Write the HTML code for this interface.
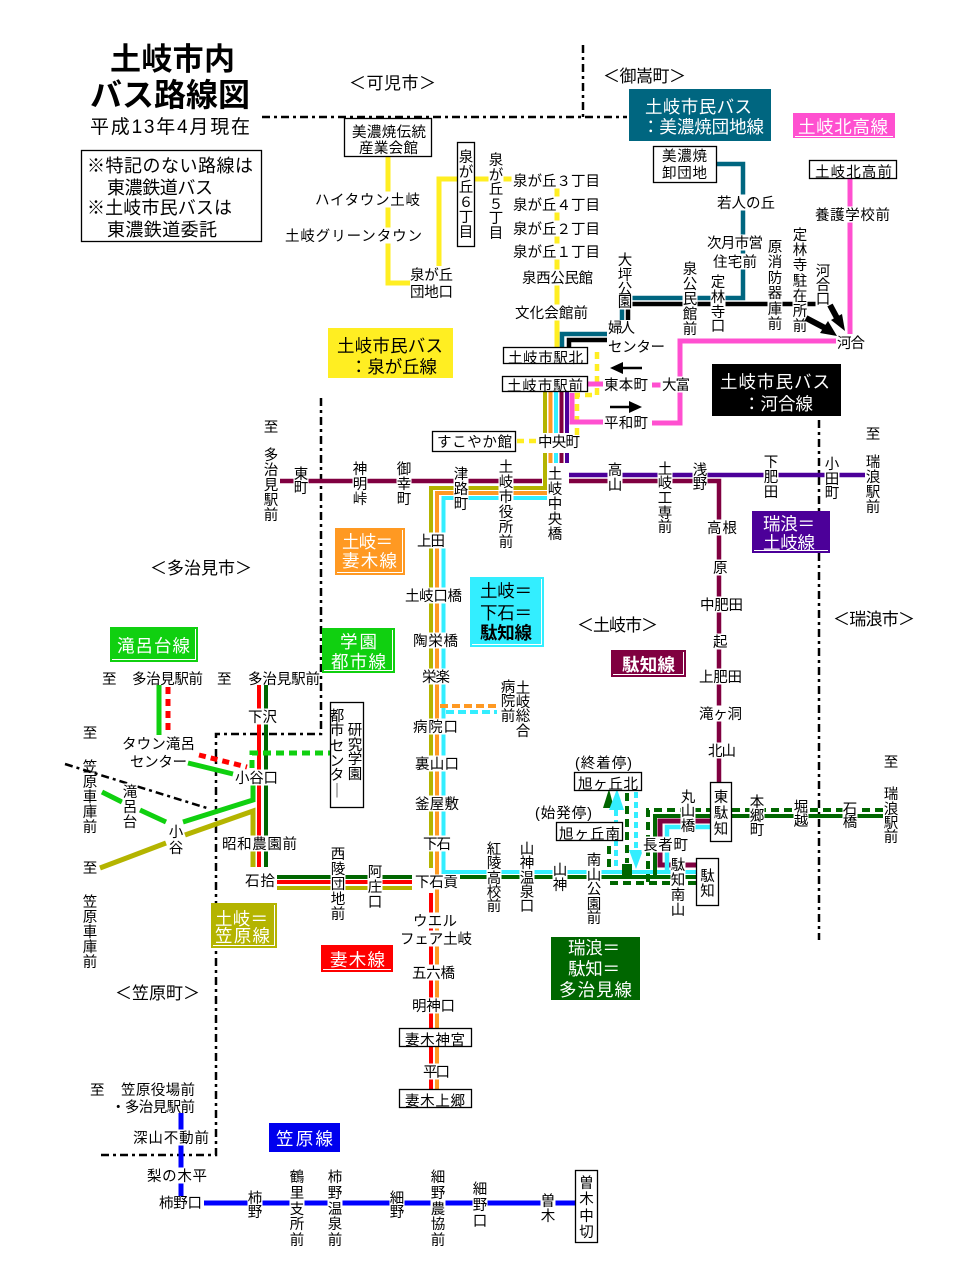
<!DOCTYPE html>
<html><head><meta charset="utf-8"><title>土岐市内バス路線図</title>
<style>
html,body{margin:0;padding:0;background:#fff;width:960px;height:1279px;overflow:hidden;}
svg{display:block;}
text{font-family:"Liberation Sans","Noto Sans CJK JP",sans-serif;}
.s{font-size:14.5px;fill:#000;}
.n{font-size:14.5px;fill:#000;}
.v{text-anchor:middle;}
.r{font-size:17px;fill:#000;}
.lw{font-size:17.5px;fill:#fff;}
.lb{font-size:17.5px;fill:#000;}
.bx{fill:#fff;stroke:#000;stroke-width:1.3;}
.bd{fill:none;stroke:#000;stroke-width:2.5;}
.rt{fill:none;}
.bv{fill:none;stroke:#fff;stroke-width:1;}
.wb{fill:#fff;}
</style></head><body>
<svg xmlns="http://www.w3.org/2000/svg" width="960" height="1279" viewBox="0 0 960 1279">
<rect width="960" height="1279" fill="#fff"/>

<!-- boundaries -->
<g class="bd" stroke-dasharray="8 4 3 4">
<path d="M262 117H627"/>
<path d="M583 45V117"/>
<path d="M321 398V734H216V1155H101"/>
<path d="M65 764L210 809"/>
<path d="M819 420V940"/>
</g>

<!-- routes -->
<g class="rt">
<path d="M388 157V283H410M439 266V179H457M475 179H490M502 179H513M557 187V347" stroke="#ffee22" stroke-width="5"/>
<path d="M597 352V395H577V437M517 441H536" stroke="#ffee22" stroke-width="4.5" stroke-dasharray="7 5"/>
<path d="M562 347V334H607M622 320V298H743V164H717" stroke="#006680" stroke-width="4.5"/>
<path d="M569 347V340H607M628 320V304H816" stroke="#000" stroke-width="4.5"/>
<path d="M850 179V334M836 341H680V423H652M603 422H572V393M588 384H603M652 385H661" stroke="#ff50d0" stroke-width="5"/>
<path d="M545 392V433M545 453V488H431V868" stroke="#b4b400" stroke-width="4"/>
<path d="M550.5 392V433M550.5 453V463M547 493H437V1089" stroke="#ff9922" stroke-width="4"/>
<path d="M556 392V433M556 453V463M547 498H443.5V872H696" stroke="#33eeff" stroke-width="4"/>
<path d="M561.5 392V433M561.5 453V463" stroke="#800040" stroke-width="4"/>
<path d="M567 392V433M567 453V463" stroke="#4c0099" stroke-width="4"/>
<path d="M280 481H542M569 481H719V782" stroke="#800040" stroke-width="4.5"/>
<path d="M569 475H865" stroke="#4c0099" stroke-width="4.5"/>
<path d="M431 893V1089M277 882H412M259 685V867" stroke="#ff0000" stroke-width="4"/>
<path d="M277 877H412M460 877H696M266 685V867M655 877V816H710M732 816H883" stroke="#006600" stroke-width="4"/>
<path d="M277 888H412" stroke="#b4b400" stroke-width="4"/>
<path d="M253 867V811L185 835M166 843L100 868" stroke="#b4b400" stroke-width="5"/>
<path d="M159 685V735M188 763L233 774M253 783V800L183 822M166 822L140 810M122 802L102 792" stroke="#10d010" stroke-width="5"/>
<path d="M168 687V733M199 755L247 767" stroke="#ff0000" stroke-width="5" stroke-dasharray="7 5"/>
<path d="M252 768V753H330" stroke="#10d010" stroke-width="5" stroke-dasharray="8 5"/>
<path d="M181 1113V1196M204 1203H575" stroke="#0000ff" stroke-width="5"/>
<path d="M710 821H660V865H697" stroke="#800040" stroke-width="5"/>
<path d="M710 827H667V872" stroke="#33eeff" stroke-width="4.5"/>
<path d="M883 810H648V883M610 883H697M609 867V843M627 793V863" stroke="#006600" stroke-width="4" stroke-dasharray="8 5"/>
<path d="M616 810V868M636 792V850" stroke="#33eeff" stroke-width="4" stroke-dasharray="6 4"/>
<path d="M440 706H500" stroke="#ff9922" stroke-width="4" stroke-dasharray="8 4"/>
<path d="M446 712H497" stroke="#33eeff" stroke-width="4" stroke-dasharray="8 4"/>
</g>
<polygon points="603,808 614,808 609,789" fill="#006600"/>
<rect x="622" y="864" width="10" height="14" fill="#006600"/>
<polygon points="609,810 624,810 617,789" fill="#33eeff"/>
<polygon points="629,850 643,850 636,869" fill="#33eeff"/>

<!-- legend boxes -->
<rect x="629" y="89" width="142" height="52" fill="#006680"/>
<rect x="793" y="113" width="102" height="25" fill="#ff50d0"/><path class="bv" d="M795 136.5H893"/>
<rect x="328" y="328" width="125" height="50" fill="#ffee22"/>
<rect x="712" y="364" width="129" height="52" fill="#000"/>
<rect x="335" y="528" width="70" height="47" fill="#ff9922"/><path class="bv" d="M337 572.5H402.5V530"/>
<rect x="470" y="577" width="74" height="70" fill="#33eeff"/><path class="bv" d="M472 644.5H541.5V579"/>
<rect x="611" y="650" width="75" height="27" fill="#800040"/><path class="bv" d="M613 674.5H683.5V652"/>
<rect x="752" y="511" width="78" height="42" fill="#4c0099"/><path class="bv" d="M754 550.5H828"/>
<rect x="110" y="627" width="88" height="35" fill="#10d010"/><path class="bv" d="M112 659.5H195.5V629"/>
<rect x="322" y="628" width="73" height="45" fill="#10d010"/><path class="bv" d="M324 670.5H392.5V630"/>
<rect x="211" y="903" width="66" height="45" fill="#b4b400"/><path class="bv" d="M213 945.5H274.5V905"/>
<rect x="321" y="945" width="72" height="27" fill="#ff0000"/><path class="bv" d="M323 969.5H391"/>
<rect x="551" y="937" width="89" height="63" fill="#006600"/>
<rect x="269" y="1123" width="71" height="29" fill="#0000ee"/>

<!-- boxes -->
<rect class="bx" x="344.5" y="118.5" width="87" height="38"/>
<rect class="bx" x="457.5" y="142.5" width="17" height="104"/>
<rect class="bx" x="653.5" y="146.5" width="63" height="36"/>
<rect class="bx" x="809.5" y="160.5" width="87" height="18"/>
<rect class="bx" x="503.5" y="347.5" width="84" height="16"/>
<rect class="bx" x="502.5" y="376.5" width="85" height="15"/>
<rect class="bx" x="432.5" y="431.5" width="83" height="20"/>
<rect class="bx" x="574.5" y="772.5" width="67" height="18"/>
<rect class="bx" x="556.5" y="822.5" width="66" height="18"/>
<rect class="bx" x="710.5" y="782.5" width="21" height="59"/>
<rect class="bx" x="696.5" y="858.5" width="22" height="47"/>
<rect class="bx" x="399.5" y="1028.5" width="72" height="18"/>
<rect class="bx" x="399.5" y="1089.5" width="72" height="18"/>
<rect class="bx" x="330.5" y="702.5" width="33" height="105"/>
<rect class="bx" x="575.5" y="1170.5" width="22" height="72"/>
<rect class="bx" x="81.5" y="150.5" width="180" height="91"/>

<!-- white backgrounds behind labels on lines -->
<g class="wb">
<rect x="488.5" y="151.5" width="15" height="89"/>
<rect x="617.5" y="251.5" width="15" height="58"/>
<rect x="682.5" y="260.5" width="15" height="76"/>
<rect x="710.5" y="273.5" width="15" height="60"/>
<rect x="767.5" y="238.5" width="15" height="93"/>
<rect x="792.5" y="226.5" width="15" height="107"/>
<rect x="815.5" y="262.5" width="15" height="44"/>
<rect x="293.5" y="465.5" width="15" height="30"/>
<rect x="352.5" y="460.5" width="15" height="46"/>
<rect x="396.5" y="460.5" width="15" height="46"/>
<rect x="453.5" y="465.5" width="15" height="46"/>
<rect x="498.5" y="458.5" width="15" height="91"/>
<rect x="547.5" y="465.5" width="15" height="76"/>
<rect x="607.5" y="461.5" width="15" height="31"/>
<rect x="657.5" y="460.5" width="15" height="74"/>
<rect x="692.5" y="461.5" width="15" height="30"/>
<rect x="763.5" y="453.5" width="15" height="46"/>
<rect x="824.5" y="455.5" width="15" height="45"/>
<rect x="486.5" y="840.5" width="15" height="73"/>
<rect x="519.5" y="840.5" width="15" height="73"/>
<rect x="552.5" y="861.5" width="15" height="31"/>
<rect x="586.5" y="851.5" width="15" height="74"/>
<rect x="680.5" y="788.5" width="15" height="45"/>
<rect x="670.5" y="856.5" width="15" height="61"/>
<rect x="749.5" y="793.5" width="15" height="44"/>
<rect x="793.5" y="798.5" width="15" height="30"/>
<rect x="842.5" y="800.5" width="15" height="29"/>
<rect x="330.5" y="845.5" width="15" height="76"/>
<rect x="367.5" y="863.5" width="15" height="46"/>
<rect x="122.5" y="783.5" width="15" height="46"/>
<rect x="168.5" y="823.5" width="15" height="32"/>
<rect x="247.5" y="1189.5" width="15" height="30"/>
<rect x="289.5" y="1168.5" width="15" height="79"/>
<rect x="327.5" y="1168.5" width="15" height="79"/>
<rect x="389.5" y="1189.5" width="15" height="30"/>
<rect x="430.5" y="1168.5" width="15" height="79"/>
<rect x="472.5" y="1180.5" width="15" height="48"/>
<rect x="540.5" y="1192.5" width="15" height="31"/>
<rect x="313.5" y="191.5" width="108" height="16"/>
<rect x="283.5" y="227.5" width="140" height="16"/>
<rect x="511.5" y="172.5" width="90" height="16"/>
<rect x="511.5" y="196.5" width="90" height="16"/>
<rect x="511.5" y="220.5" width="90" height="16"/>
<rect x="511.5" y="243.5" width="90" height="16"/>
<rect x="520.5" y="269.5" width="74" height="16"/>
<rect x="513.5" y="304.5" width="76" height="16"/>
<rect x="660.5" y="376.5" width="31" height="16"/>
<rect x="715.5" y="194.5" width="61" height="16"/>
<rect x="705.5" y="234.5" width="59" height="16"/>
<rect x="711.5" y="253.5" width="47" height="16"/>
<rect x="813.5" y="206.5" width="78" height="16"/>
<rect x="705.5" y="519.5" width="33" height="16"/>
<rect x="711.5" y="559.5" width="17" height="16"/>
<rect x="698.5" y="596.5" width="46" height="16"/>
<rect x="711.5" y="633.5" width="17" height="16"/>
<rect x="697.5" y="668.5" width="46" height="16"/>
<rect x="697.5" y="705.5" width="46" height="16"/>
<rect x="706.5" y="742.5" width="31" height="16"/>
<rect x="641.5" y="836.5" width="48" height="16"/>
<rect x="415.5" y="532.5" width="31" height="16"/>
<rect x="403.5" y="587.5" width="60" height="16"/>
<rect x="411.5" y="632.5" width="48" height="16"/>
<rect x="420.5" y="668.5" width="31" height="16"/>
<rect x="411.5" y="718.5" width="48" height="16"/>
<rect x="413.5" y="755.5" width="47" height="16"/>
<rect x="413.5" y="795.5" width="47" height="16"/>
<rect x="421.5" y="835.5" width="31" height="16"/>
<rect x="413.5" y="874.5" width="46" height="15"/>
<rect x="411.5" y="912.5" width="47" height="16"/>
<rect x="398.5" y="930.5" width="75" height="16"/>
<rect x="410.5" y="964.5" width="46" height="16"/>
<rect x="410.5" y="997.5" width="46" height="16"/>
<rect x="421.5" y="1063.5" width="30" height="16"/>
<rect x="246.5" y="708.5" width="32" height="16"/>
<rect x="233.5" y="769.5" width="46" height="16"/>
<rect x="220.5" y="835.5" width="78" height="16"/>
<rect x="131.5" y="1129.5" width="79" height="16"/>
<rect x="145.5" y="1167.5" width="63" height="16"/>
</g>

<!-- title -->
<text x="110" y="70" font-size="31" font-weight="bold" textLength="125">土岐市内</text>
<text x="90" y="106" font-size="32" font-weight="bold" textLength="160">バス路線図</text>
<text x="90" y="133" font-size="19" textLength="160">平成13年4月現在</text>
<text x="87" y="172" font-size="18" textLength="166">※特記のない路線は</text>
<text x="107" y="194" font-size="18" textLength="106">東濃鉄道バス</text>
<text x="87" y="214" font-size="18" textLength="145">※土岐市民バスは</text>
<text x="107" y="236" font-size="18" textLength="110">東濃鉄道委託</text>

<!-- region labels -->
<text class="r" x="349" y="89" textLength="87">＜可児市＞</text>
<text class="r" x="603" y="82" textLength="83">＜御嵩町＞</text>
<text class="r" x="150" y="574" textLength="102">＜多治見市＞</text>
<text class="r" x="577" y="631" textLength="81">＜土岐市＞</text>
<text class="r" x="833" y="625" textLength="82">＜瑞浪市＞</text>
<text class="r" x="115" y="999" textLength="85">＜笠原町＞</text>

<!-- legend texts -->
<text class="lw" x="645" y="113" textLength="107">土岐市民バス</text>
<text class="lw" x="642" y="133" textLength="122">：美濃焼団地線</text>
<text class="lw" x="798" y="133" textLength="90">土岐北高線</text>
<text class="lb" x="337" y="352" textLength="106">土岐市民バス</text>
<text class="lb" x="350" y="373" textLength="87">：泉が丘線</text>
<text class="lw" x="720" y="388" textLength="110">土岐市民バス</text>
<text class="lw" x="743" y="410" textLength="70">：河合線</text>
<text class="lw" x="342" y="548" textLength="51">土岐＝</text>
<text class="lw" x="342" y="567" textLength="55">妻木線</text>
<text class="lb" x="480" y="597" textLength="52">土岐＝</text>
<text class="lb" x="480" y="619" textLength="52">下石＝</text>
<text class="lb" x="480" y="639" textLength="52" font-weight="bold">駄知線</text>
<text class="lw" x="622" y="671" textLength="53" font-weight="bold">駄知線</text>
<text class="lw" x="763" y="530" textLength="52">瑞浪＝</text>
<text class="lw" x="763" y="549" textLength="52">土岐線</text>
<text class="lw" x="117" y="652" textLength="73">滝呂台線</text>
<text class="lw" x="340" y="648" textLength="37">学園</text>
<text class="lw" x="331" y="668" textLength="55">都市線</text>
<text class="lw" x="215" y="925" textLength="53">土岐＝</text>
<text class="lw" x="215" y="942" textLength="55">笠原線</text>
<text class="lw" x="330" y="966" textLength="55" font-size="19">妻木線</text>
<text class="lw" x="568" y="954" textLength="52">瑞浪＝</text>
<text class="lw" x="568" y="975" textLength="52">駄知＝</text>
<text class="lw" x="559" y="996" textLength="73">多治見線</text>
<text class="lw" x="276" y="1145" textLength="57">笠原線</text>

<!-- boxed texts -->
<text class="n" x="352" y="137" textLength="74">美濃焼伝統</text>
<text class="n" x="359" y="153" textLength="59">産業会館</text>
<text class="n" x="662" y="161" textLength="45">美濃焼</text>
<text class="n" x="662" y="178" textLength="45">卸団地</text>
<text class="n" x="815" y="177" textLength="77">土岐北高前</text>
<text class="n" x="508" y="363" textLength="75">土岐市駅北</text>
<text class="n" x="507" y="391" textLength="76">土岐市駅前</text>
<text class="n" x="437" y="447" textLength="75">すこやか館</text>
<text class="n" x="578" y="789" textLength="60">旭ヶ丘北</text>
<text class="n" x="559" y="839" textLength="61">旭ヶ丘南</text>
<text class="n" x="405" y="1045" textLength="60">妻木神宮</text>
<text class="n" x="405" y="1106" textLength="60">妻木上郷</text>
<text class="n v" x="466 466 466 466 466 466" y="162 177 192 207 222 237">泉が丘６丁目</text>
<text class="n v" x="721 721 721" y="802 818 834">東駄知</text>
<text class="n v" x="707.5 707.5" y="881 896">駄知</text>
<text class="n v" x="355 355 355 355" y="735 750 764 779">研究学園</text>
<text class="n v" x="337 337 337 337 337 337" y="721 735 751 766 780 796">都市センタ｜</text>
<text class="n v" x="586.5 586.5 586.5 586.5" y="1188 1204 1221 1237">曽木中切</text>
<text class="n v" x="508 508 508" y="692 706 721">病院前</text>
<text class="n v" x="523 523 523 523" y="693 707 721 736">土岐総合</text>

<!-- horizontal station labels -->
<text class="s" x="315" y="205" textLength="105">ハイタウン土岐</text>
<text class="s" x="285" y="241" textLength="137">土岐グリーンタウン</text>
<text class="s" x="410" y="280" textLength="43">泉が丘</text>
<text class="s" x="410" y="297" textLength="43">団地口</text>
<text class="s" x="513" y="186" textLength="87">泉が丘３丁目</text>
<text class="s" x="513" y="210" textLength="87">泉が丘４丁目</text>
<text class="s" x="513" y="234" textLength="87">泉が丘２丁目</text>
<text class="s" x="513" y="257" textLength="87">泉が丘１丁目</text>
<text class="s" x="522" y="283" textLength="71">泉西公民館</text>
<text class="s" x="515" y="318" textLength="73">文化会館前</text>
<text class="s" x="538" y="447" textLength="42">中央町</text>
<text class="s" x="604" y="390" textLength="44">東本町</text>
<text class="s" x="662" y="390" textLength="28">大富</text>
<text class="s" x="604" y="428" textLength="44">平和町</text>
<text class="s" x="608" y="333" textLength="27">婦人</text>
<text class="s" x="608" y="352" textLength="57">センター</text>
<text class="s" x="717" y="208" textLength="58">若人の丘</text>
<text class="s" x="707" y="248" textLength="56">次月市営</text>
<text class="s" x="713" y="267" textLength="44">住宅前</text>
<text class="s" x="815" y="220" textLength="75">養護学校前</text>
<text class="s" x="837" y="348" textLength="28">河合</text>
<text class="s" x="707" y="533" textLength="30">高根</text>
<text class="s" x="713" y="573">原</text>
<text class="s" x="700" y="610" textLength="43">中肥田</text>
<text class="s" x="713" y="647">起</text>
<text class="s" x="699" y="682" textLength="43">上肥田</text>
<text class="s" x="699" y="719" textLength="43">滝ヶ洞</text>
<text class="s" x="708" y="756" textLength="28">北山</text>
<text class="s" x="643" y="850" textLength="45">長者町</text>
<text class="s" x="417" y="546" textLength="28">上田</text>
<text class="s" x="405" y="601" textLength="57">土岐口橋</text>
<text class="s" x="413" y="646" textLength="45">陶栄橋</text>
<text class="s" x="422" y="682" textLength="28">栄楽</text>
<text class="s" x="413" y="732" textLength="45">病院口</text>
<text class="s" x="415" y="769" textLength="44">裏山口</text>
<text class="s" x="415" y="809" textLength="44">釜屋敷</text>
<text class="s" x="423" y="849" textLength="28">下石</text>
<text class="s" x="415" y="887" textLength="43">下石貢</text>
<text class="s" x="413" y="926" textLength="44">ウエル</text>
<text class="s" x="400" y="944" textLength="72">フェア土岐</text>
<text class="s" x="412" y="978" textLength="43">五六橋</text>
<text class="s" x="412" y="1011" textLength="43">明神口</text>
<text class="s" x="423" y="1077" textLength="27">平口</text>
<text class="s" x="575" y="768" textLength="57">(終着停)</text>
<text class="s" x="535" y="818" textLength="57">(始発停)</text>
<text class="s" x="102" y="684">至</text>
<text class="s" x="132" y="684" textLength="71">多治見駅前</text>
<text class="s" x="217" y="684">至</text>
<text class="s" x="248" y="684" textLength="72">多治見駅前</text>
<text class="s" x="248" y="722" textLength="29">下沢</text>
<text class="s" x="122" y="749" textLength="73">タウン滝呂</text>
<text class="s" x="130" y="767" textLength="57">センター</text>
<text class="s" x="235" y="783" textLength="43">小谷口</text>
<text class="s" x="222" y="849" textLength="75">昭和農園前</text>
<text class="s" x="245" y="886" textLength="30">石拾</text>
<text class="s" x="90" y="1095">至</text>
<text class="s" x="121" y="1095" textLength="74">笠原役場前</text>
<text class="s" x="111" y="1112" textLength="84">・多治見駅前</text>
<text class="s" x="133" y="1143" textLength="76">深山不動前</text>
<text class="s" x="147" y="1181" textLength="60">梨の木平</text>
<text class="s" x="159" y="1208" textLength="43">柿野口</text>

<!-- vertical station labels -->
<text class="s v" x="496 496 496 496 496 496" y="165 180 194 209 223 238">泉が丘５丁目</text>
<text class="s v" x="625 625 625 625" y="265 280 294 307">大坪公園</text>
<text class="s v" x="690 690 690 690 690" y="274 289 304 319 334">泉公民館前</text>
<text class="s v" x="718 718 718 718" y="287 302 317 331">定林寺口</text>
<text class="s v" x="775 775 775 775 775 775" y="252 267 283 298 314 329">原消防器庫前</text>
<text class="s v" x="800 800 800 800 800 800 800" y="240 255 270 286 301 316 331">定林寺駐在所前</text>
<text class="s v" x="823 823 823" y="276 290 304">河合口</text>
<text class="s v" x="271" y="432">至</text>
<text class="s v" x="271 271 271 271 271" y="460 475 490 505 520">多治見駅前</text>
<text class="s v" x="301 301" y="479 493">東町</text>
<text class="s v" x="360 360 360" y="474 489 504">神明峠</text>
<text class="s v" x="404 404 404" y="474 489 504">御幸町</text>
<text class="s v" x="461 461 461" y="479 494 509">津路町</text>
<text class="s v" x="506 506 506 506 506 506" y="472 487 502 517 532 547">土岐市役所前</text>
<text class="s v" x="555 555 555 555 555" y="479 494 509 524 539">土岐中央橋</text>
<text class="s v" x="615 615" y="475 490">高山</text>
<text class="s v" x="665 665 665 665 665" y="474 488 503 518 532">土岐工専前</text>
<text class="s v" x="700 700" y="475 489">浅野</text>
<text class="s v" x="771 771 771" y="467 482 497">下肥田</text>
<text class="s v" x="832 832 832" y="469 484 498">小田町</text>
<text class="s v" x="873" y="439">至</text>
<text class="s v" x="873 873 873 873" y="467 482 497 512">瑞浪駅前</text>
<text class="s v" x="494 494 494 494 494" y="854 868 883 897 911">紅陵高校前</text>
<text class="s v" x="527 527 527 527 527" y="854 868 883 897 911">山神温泉口</text>
<text class="s v" x="560 560" y="875 890">山神</text>
<text class="s v" x="594 594 594 594 594" y="865 880 894 909 923">南山公園前</text>
<text class="s v" x="688 688 688" y="802 816 831">丸山橋</text>
<text class="s v" x="678 678 678 678" y="870 885 900 915">駄知南山</text>
<text class="s v" x="757 757 757" y="807 821 835">本郷町</text>
<text class="s v" x="801 801" y="812 826">堀越</text>
<text class="s v" x="850 850" y="814 827">石橋</text>
<text class="s v" x="891" y="767">至</text>
<text class="s v" x="891 891 891 891" y="799 814 828 842">瑞浪駅前</text>
<text class="s v" x="338 338 338 338 338" y="859 874 889 904 919">西陵団地前</text>
<text class="s v" x="375 375 375" y="877 892 907">阿庄口</text>
<text class="s v" x="90" y="738">至</text>
<text class="s v" x="90 90 90 90 90" y="772 787 802 817 832">笠原車庫前</text>
<text class="s v" x="130 130 130" y="797 812 827">滝呂台</text>
<text class="s v" x="176 176" y="837 853">小谷</text>
<text class="s v" x="90" y="873">至</text>
<text class="s v" x="90 90 90 90 90" y="907 922 937 952 967">笠原車庫前</text>
<text class="s v" x="255 255" y="1203 1217">柿野</text>
<text class="s v" x="297 297 297 297 297" y="1182 1198 1214 1229 1245">鶴里支所前</text>
<text class="s v" x="335 335 335 335 335" y="1182 1198 1214 1229 1245">柿野温泉前</text>
<text class="s v" x="397 397" y="1203 1217">細野</text>
<text class="s v" x="438 438 438 438 438" y="1182 1198 1214 1229 1245">細野農協前</text>
<text class="s v" x="480 480 480" y="1194 1210 1226">細野口</text>
<text class="s v" x="548 548" y="1206 1221">曽木</text>

<!-- arrows -->
<path d="M621 368H642M610 407H631" stroke="#000" stroke-width="2.5"/>
<polygon points="610,368 623,362 623,374" fill="#000"/>
<polygon points="642,407 629,401 629,413" fill="#000"/>
<path d="M806 318L825 328" stroke="#000" stroke-width="6"/>
<polygon points="828,321 820,333 837,336" fill="#000"/>
<path d="M830 305L837 318" stroke="#000" stroke-width="6"/>
<polygon points="842,314 831,320 845,331" fill="#000"/>
</svg>
</body></html>
